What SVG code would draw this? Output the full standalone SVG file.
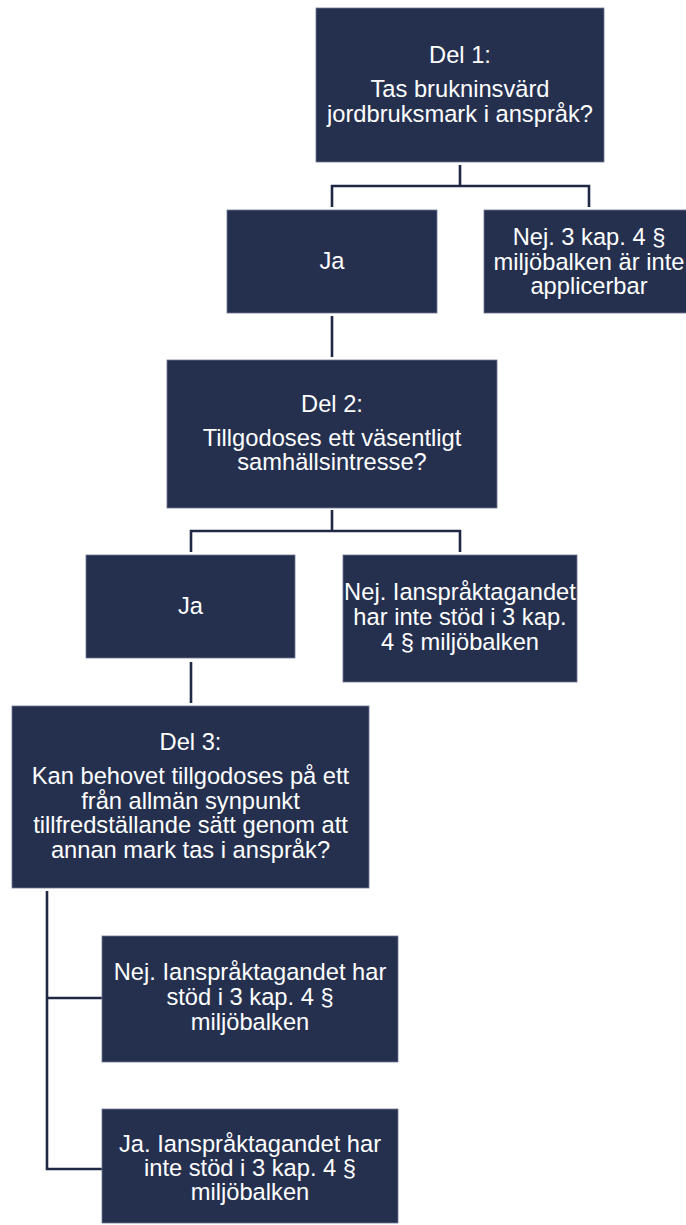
<svg xmlns="http://www.w3.org/2000/svg" width="686" height="1225" viewBox="0 0 686 1225">
<style>
.box{fill:#25304f;stroke:#6f7893;stroke-width:0.8}
.t{font-family:"Liberation Sans",Arial,sans-serif;font-size:23.7px;fill:#ffffff;text-anchor:middle}
.c{fill:none;stroke:#1f2946;stroke-width:2.6;stroke-linejoin:miter}
</style>
<rect width="686" height="1225" fill="#ffffff"/>
<g id="connectors">
<path class="c" d="M460,165 V186 M332,207 V186 H589 V207"/>
<path class="c" d="M332,316 V357"/>
<path class="c" d="M332,510 V531 M191,552 V531 H460 V552"/>
<path class="c" d="M191,662 V703"/>
<path class="c" d="M47,891 V1169 H102 M47,998 H102"/>
</g>
<g id="del1">
<rect class="box" x="316" y="8" width="288" height="154"/>
<text class="t" x="460" y="63">Del 1:</text>
<text class="t" x="460" y="97">Tas brukninsvärd</text>
<text class="t" x="460" y="122">jordbruksmark i anspråk?</text>
</g>
<g id="ja1">
<rect class="box" x="227" y="210" width="210" height="103"/>
<text class="t" x="332" y="269">Ja</text>
</g>
<g id="nej1">
<rect class="box" x="484" y="210" width="210" height="103"/>
<text class="t" x="589" y="245">Nej. 3 kap. 4 §</text>
<text class="t" x="589" y="270">miljöbalken är inte</text>
<text class="t" x="589" y="294">applicerbar</text>
</g>
<g id="del2">
<rect class="box" x="167" y="360" width="330" height="148"/>
<text class="t" x="332" y="412">Del 2:</text>
<text class="t" x="332" y="446">Tillgodoses ett väsentligt</text>
<text class="t" x="332" y="470">samhällsintresse?</text>
</g>
<g id="ja2">
<rect class="box" x="86" y="555" width="209" height="103"/>
<text class="t" x="190.5" y="614">Ja</text>
</g>
<g id="nej2">
<rect class="box" x="343" y="555" width="234" height="127"/>
<text class="t" x="460" y="600">Nej. Ianspråktagandet</text>
<text class="t" x="460" y="625">har inte stöd i 3 kap.</text>
<text class="t" x="460" y="650">4 § miljöbalken</text>
</g>
<g id="del3">
<rect class="box" x="12" y="706" width="357" height="182"/>
<text class="t" x="190.5" y="750">Del 3:</text>
<text class="t" x="190.5" y="784">Kan behovet tillgodoses på ett</text>
<text class="t" x="190.5" y="809">från allmän synpunkt</text>
<text class="t" x="190.5" y="833">tillfredställande sätt genom att</text>
<text class="t" x="190.5" y="858">annan mark tas i anspråk?</text>
</g>
<g id="nej3">
<rect class="box" x="102" y="936" width="296" height="126"/>
<text class="t" x="250" y="980">Nej. Ianspråktagandet har</text>
<text class="t" x="250" y="1005">stöd i 3 kap. 4 §</text>
<text class="t" x="250" y="1030">miljöbalken</text>
</g>
<g id="ja3">
<rect class="box" x="102" y="1109" width="296" height="114"/>
<text class="t" x="250" y="1152">Ja. Ianspråktagandet har</text>
<text class="t" x="250" y="1176">inte stöd i 3 kap. 4 §</text>
<text class="t" x="250" y="1200">miljöbalken</text>
</g>
</svg>
